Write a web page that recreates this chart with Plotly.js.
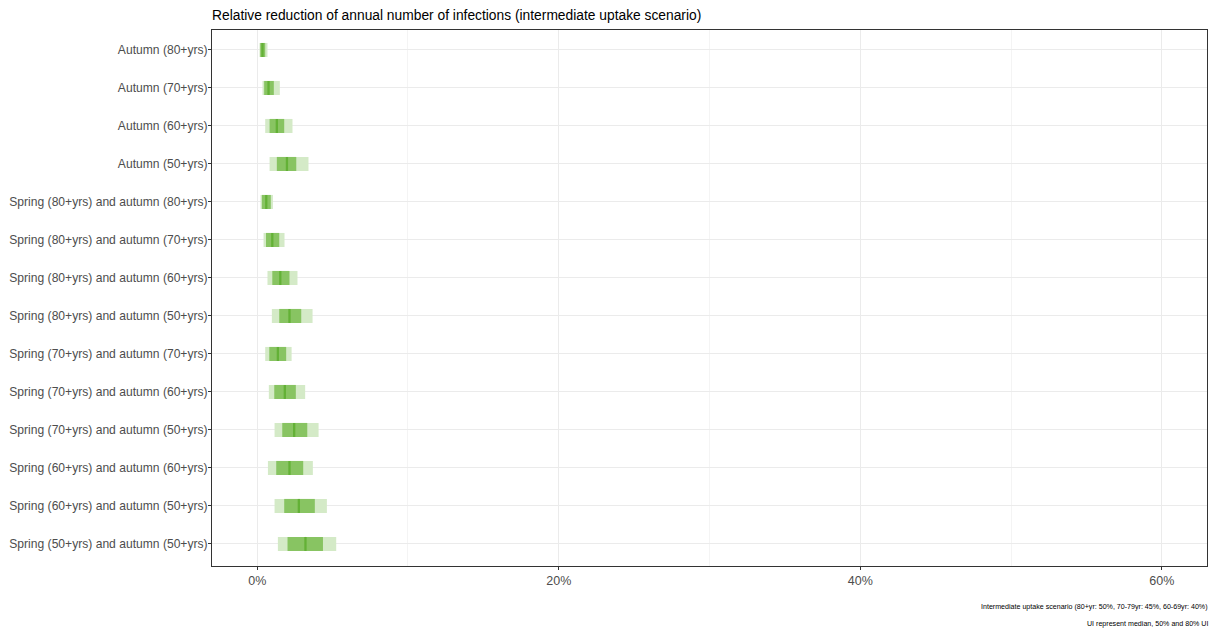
<!DOCTYPE html>
<html>
<head>
<meta charset="utf-8">
<script src="https://cdn.plot.ly/plotly-3.0.1.min.js"></script>
<style>html,body{margin:0;padding:0;background:#fff;}#chart{width:1210px;height:633px;}</style>
</head>
<body>
<div id="chart"></div>
<script>
const categories = [
  "Autumn (80+yrs)",
  "Autumn (70+yrs)",
  "Autumn (60+yrs)",
  "Autumn (50+yrs)",
  "Spring (80+yrs) and autumn (80+yrs)",
  "Spring (80+yrs) and autumn (70+yrs)",
  "Spring (80+yrs) and autumn (60+yrs)",
  "Spring (80+yrs) and autumn (50+yrs)",
  "Spring (70+yrs) and autumn (70+yrs)",
  "Spring (70+yrs) and autumn (60+yrs)",
  "Spring (70+yrs) and autumn (50+yrs)",
  "Spring (60+yrs) and autumn (60+yrs)",
  "Spring (60+yrs) and autumn (50+yrs)",
  "Spring (50+yrs) and autumn (50+yrs)"
];
// values in %
const lo80  = [0.15, 0.35, 0.53, 0.82, 0.22, 0.42, 0.68, 0.97, 0.53, 0.77, 1.15, 0.71, 1.15, 1.37];
const hi80  = [0.68, 1.50, 2.34, 3.40, 1.04, 1.81, 2.67, 3.67, 2.28, 3.18, 4.07, 3.69, 4.62, 5.24];
const lo50  = [0.20, 0.46, 0.82, 1.30, 0.31, 0.58, 1.00, 1.46, 0.80, 1.13, 1.66, 1.26, 1.79, 2.01];
const hi50  = [0.53, 1.10, 1.79, 2.59, 0.90, 1.46, 2.14, 2.92, 1.92, 2.56, 3.32, 3.05, 3.82, 4.36];
const median= [0.35, 0.75, 1.30, 1.97, 0.60, 1.00, 1.53, 2.14, 1.37, 1.83, 2.45, 2.14, 2.76, 3.20];
const xTickVals = [0, 20, 40, 60];
const xTickText = ["0%", "20%", "40%", "60%"];
const titleText = "Relative reduction of annual number of infections (intermediate uptake scenario)";
const caption1 = "Intermediate uptake scenario (80+yr: 50%, 70-79yr: 45%, 60-69yr: 40%)";
const caption2 = "UI represent median, 50% and 80% UI";

const traces = [
  {
    type: 'bar', orientation: 'h', y: categories,
    base: lo80, x: hi80.map((h, i) => h - lo80[i]),
    width: 0.37, marker: {color: '#d4eac7', line: {width: 0}},
    hoverinfo: 'skip', showlegend: false
  },
  {
    type: 'bar', orientation: 'h', y: categories,
    base: lo50, x: hi50.map((h, i) => h - lo50[i]),
    width: 0.37, marker: {color: '#88c462', line: {width: 0}},
    hoverinfo: 'skip', showlegend: false
  },
  {
    type: 'scatter', mode: 'markers', y: categories, x: median,
    marker: {symbol: 'line-ns', size: 10, line: {width: 2.3, color: '#63b136'}},
    hoverinfo: 'skip', showlegend: false
  }
];

const layout = {
  width: 1210, height: 633,
  margin: {l: 212, r: 3, t: 30, b: 67},
  paper_bgcolor: '#fff', plot_bgcolor: '#fff',
  barmode: 'overlay',
  font: {family: 'Liberation Sans, Arial, sans-serif', color: '#4d4d4d'},
  title: {
    text: titleText, x: 212/1210, xanchor: 'left', xref: 'container',
    y: 1 - 15/633, yanchor: 'middle', yref: 'container',
    font: {size: 13.8, color: '#000', family: 'Liberation Sans, Arial, sans-serif'}
  },
  xaxis: {
    range: [-3, 63], tickvals: xTickVals, ticktext: xTickText,
    showgrid: true, gridcolor: '#ebebeb', gridwidth: 1,
    minor: {dtick: 10, tick0: 0, showgrid: true, gridcolor: '#f4f4f4', gridwidth: 1, ticklen: 0},
    zeroline: false,
    showline: true, mirror: true, linecolor: '#333', linewidth: 1,
    ticks: 'outside', ticklen: 3, tickcolor: '#333', tickwidth: 1,
    tickfont: {size: 12.5, color: '#4d4d4d'}
  },
  yaxis: {
    type: 'category', range: [13.58, -0.526],
    showgrid: true, gridcolor: '#ebebeb', gridwidth: 1,
    zeroline: false,
    showline: true, mirror: true, linecolor: '#333', linewidth: 1,
    ticks: 'outside', ticklen: 3, tickcolor: '#333', tickwidth: 1,
    ticklabelstandoff: -2,
    tickfont: {size: 12.1, color: '#4d4d4d'}
  },
  annotations: [
    {text: caption1, xref: 'paper', yref: 'paper', x: 1, xanchor: 'right', xshift: 3,
     y: -41/536, yanchor: 'middle', showarrow: false,
     font: {size: 7.1, color: '#000'}},
    {text: caption2, xref: 'paper', yref: 'paper', x: 1, xanchor: 'right', xshift: 3,
     y: -58/536, yanchor: 'middle', showarrow: false,
     font: {size: 7.1, color: '#000'}}
  ]
};

Plotly.newPlot('chart', traces, layout, {displayModeBar: false, responsive: false});
</script>
</body>
</html>
